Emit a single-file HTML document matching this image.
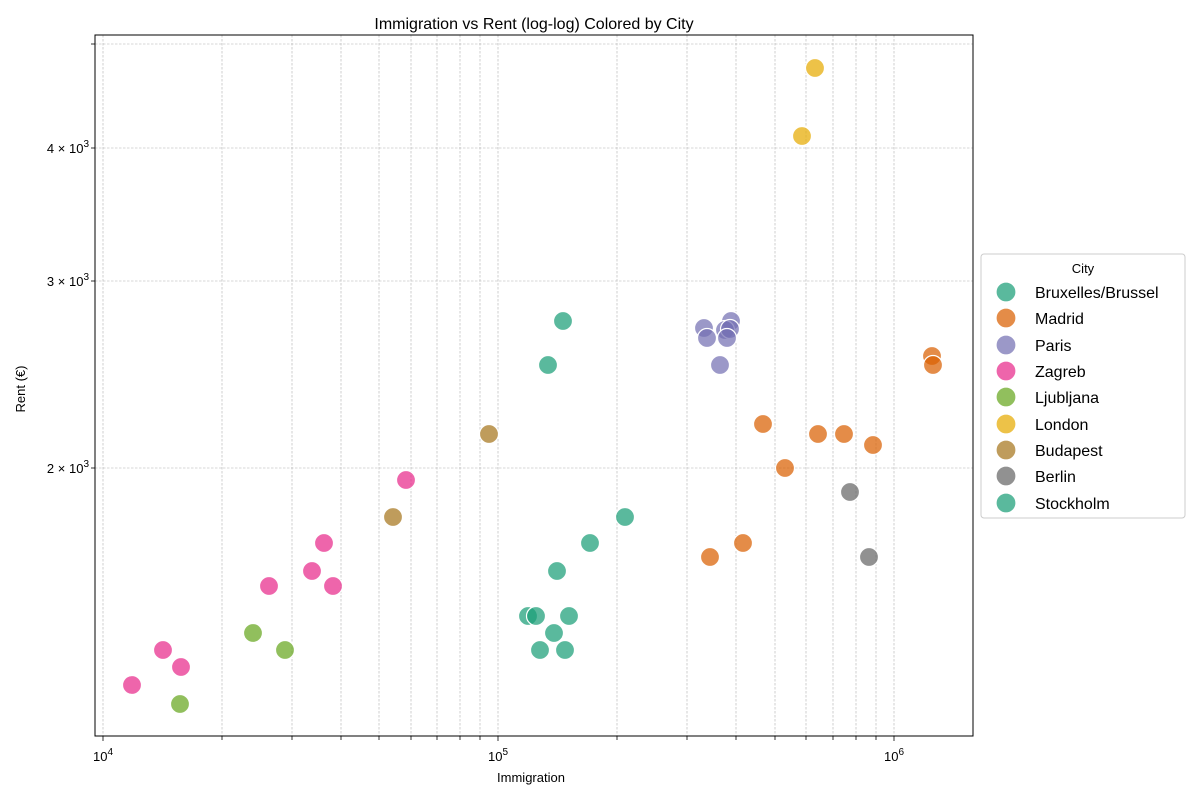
<!DOCTYPE html>
<html><head><meta charset="utf-8"><style>
body{margin:0;background:#fff;}
svg{display:block;font-family:"Liberation Sans","DejaVu Sans",sans-serif;}
</style></head><body>
<svg width="1199" height="799" viewBox="0 0 1199 799" xmlns="http://www.w3.org/2000/svg">
<rect width="1199" height="799" fill="#fff"/>
<g stroke="#b0b0b0" stroke-width="0.6" stroke-dasharray="2.5,1.5" fill="none">
<line x1="103" y1="35" x2="103" y2="736"/>
<line x1="222" y1="35" x2="222" y2="736"/>
<line x1="292" y1="35" x2="292" y2="736"/>
<line x1="341" y1="35" x2="341" y2="736"/>
<line x1="379" y1="35" x2="379" y2="736"/>
<line x1="411" y1="35" x2="411" y2="736"/>
<line x1="437" y1="35" x2="437" y2="736"/>
<line x1="460" y1="35" x2="460" y2="736"/>
<line x1="480" y1="35" x2="480" y2="736"/>
<line x1="498" y1="35" x2="498" y2="736"/>
<line x1="617" y1="35" x2="617" y2="736"/>
<line x1="687" y1="35" x2="687" y2="736"/>
<line x1="736" y1="35" x2="736" y2="736"/>
<line x1="775" y1="35" x2="775" y2="736"/>
<line x1="806" y1="35" x2="806" y2="736"/>
<line x1="833" y1="35" x2="833" y2="736"/>
<line x1="856" y1="35" x2="856" y2="736"/>
<line x1="876" y1="35" x2="876" y2="736"/>
<line x1="894" y1="35" x2="894" y2="736"/>
<line x1="95" y1="468" x2="973" y2="468"/>
<line x1="95" y1="281" x2="973" y2="281"/>
<line x1="95" y1="148" x2="973" y2="148"/>
<line x1="95" y1="44" x2="973" y2="44"/>
</g>
<g stroke="#fff" stroke-width="1.2" fill-opacity="0.72">
<g fill="#1b9e77">
<circle cx="563" cy="321" r="9.5"/><circle cx="548" cy="365" r="9.5"/><circle cx="625" cy="517" r="9.5"/><circle cx="590" cy="543" r="9.5"/><circle cx="557" cy="571" r="9.5"/><circle cx="528" cy="616" r="9.5"/><circle cx="536" cy="616" r="9.5"/><circle cx="569" cy="616" r="9.5"/><circle cx="554" cy="633" r="9.5"/><circle cx="540" cy="650" r="9.5"/><circle cx="565" cy="650" r="9.5"/>
</g>
<g fill="#d95f02">
<circle cx="932" cy="356" r="9.5"/><circle cx="933" cy="365" r="9.5"/><circle cx="763" cy="424" r="9.5"/><circle cx="818" cy="434" r="9.5"/><circle cx="844" cy="434" r="9.5"/><circle cx="873" cy="445" r="9.5"/><circle cx="785" cy="468" r="9.5"/><circle cx="743" cy="543" r="9.5"/><circle cx="710" cy="557" r="9.5"/>
</g>
<g fill="#7570b3">
<circle cx="731" cy="321" r="9.5"/><circle cx="704" cy="328" r="9.5"/><circle cx="725" cy="330" r="9.5"/><circle cx="730" cy="329" r="9.5"/><circle cx="707" cy="338" r="9.5"/><circle cx="727" cy="338" r="9.5"/><circle cx="720" cy="365" r="9.5"/>
</g>
<g fill="#e7298a">
<circle cx="406" cy="480" r="9.5"/><circle cx="324" cy="543" r="9.5"/><circle cx="312" cy="571" r="9.5"/><circle cx="269" cy="586" r="9.5"/><circle cx="333" cy="586" r="9.5"/><circle cx="163" cy="650" r="9.5"/><circle cx="181" cy="667" r="9.5"/><circle cx="132" cy="685" r="9.5"/>
</g>
<g fill="#66a61e">
<circle cx="253" cy="633" r="9.5"/><circle cx="285" cy="650" r="9.5"/><circle cx="180" cy="704" r="9.5"/>
</g>
<g fill="#e6ab02">
<circle cx="815" cy="68" r="9.5"/><circle cx="802" cy="136" r="9.5"/>
</g>
<g fill="#a6761d">
<circle cx="489" cy="434" r="9.5"/><circle cx="393" cy="517" r="9.5"/>
</g>
<g fill="#666666">
<circle cx="850" cy="492" r="9.5"/><circle cx="869" cy="557" r="9.5"/>
</g>
</g>
<rect x="95" y="35" width="878" height="701" fill="none" stroke="#000" stroke-width="1"/>
<g stroke="#000" stroke-width="0.8">
<line x1="103" y1="736" x2="103" y2="741"/><line x1="498" y1="736" x2="498" y2="741"/><line x1="894" y1="736" x2="894" y2="741"/>
<line x1="222" y1="736" x2="222" y2="740"/><line x1="292" y1="736" x2="292" y2="740"/><line x1="341" y1="736" x2="341" y2="740"/><line x1="379" y1="736" x2="379" y2="740"/><line x1="411" y1="736" x2="411" y2="740"/><line x1="437" y1="736" x2="437" y2="740"/><line x1="460" y1="736" x2="460" y2="740"/><line x1="480" y1="736" x2="480" y2="740"/>
<line x1="617" y1="736" x2="617" y2="740"/><line x1="687" y1="736" x2="687" y2="740"/><line x1="736" y1="736" x2="736" y2="740"/><line x1="775" y1="736" x2="775" y2="740"/><line x1="806" y1="736" x2="806" y2="740"/><line x1="833" y1="736" x2="833" y2="740"/><line x1="856" y1="736" x2="856" y2="740"/><line x1="876" y1="736" x2="876" y2="740"/>
<line x1="91" y1="468" x2="95" y2="468"/><line x1="91" y1="281" x2="95" y2="281"/><line x1="91" y1="148" x2="95" y2="148"/><line x1="91" y1="44" x2="95" y2="44"/>
</g>
<g font-size="13" fill="#000" text-anchor="middle">
<text x="103" y="761">10<tspan dy="-6" font-size="10">4</tspan></text>
<text x="498" y="761">10<tspan dy="-6" font-size="10">5</tspan></text>
<text x="894" y="761">10<tspan dy="-6" font-size="10">6</tspan></text>
</g>
<g font-size="13" fill="#000" text-anchor="end">
<text x="89" y="473">2 × 10<tspan dy="-6" font-size="10">3</tspan></text>
<text x="89" y="286">3 × 10<tspan dy="-6" font-size="10">3</tspan></text>
<text x="89" y="153">4 × 10<tspan dy="-6" font-size="10">3</tspan></text>
</g>
<text x="534" y="29" font-size="16" text-anchor="middle">Immigration vs Rent (log-log) Colored by City</text>
<text x="531" y="782" font-size="13" text-anchor="middle">Immigration</text>
<text x="25" y="389" font-size="13" text-anchor="middle" transform="rotate(-90 25 389)">Rent (€)</text>
<rect x="981" y="254" width="204" height="264" rx="3" fill="#fff" fill-opacity="0.85" stroke="#ccc"/>
<text x="1083" y="273" font-size="13" text-anchor="middle">City</text>
<g stroke="#fff" stroke-width="1.2" fill-opacity="0.72">
<circle cx="1006" cy="292" r="10" fill="#1b9e77"/>
<circle cx="1006" cy="318" r="10" fill="#d95f02"/>
<circle cx="1006" cy="345" r="10" fill="#7570b3"/>
<circle cx="1006" cy="371" r="10" fill="#e7298a"/>
<circle cx="1006" cy="397" r="10" fill="#66a61e"/>
<circle cx="1006" cy="424" r="10" fill="#e6ab02"/>
<circle cx="1006" cy="450" r="10" fill="#a6761d"/>
<circle cx="1006" cy="476" r="10" fill="#666666"/>
<circle cx="1006" cy="503" r="10" fill="#1b9e77"/>
</g>
<g font-size="16" fill="#000">
<text x="1035" y="298">Bruxelles/Brussel</text>
<text x="1035" y="324">Madrid</text>
<text x="1035" y="351">Paris</text>
<text x="1035" y="377">Zagreb</text>
<text x="1035" y="403">Ljubljana</text>
<text x="1035" y="430">London</text>
<text x="1035" y="456">Budapest</text>
<text x="1035" y="482">Berlin</text>
<text x="1035" y="509">Stockholm</text>
</g>
</svg>
</body></html>
